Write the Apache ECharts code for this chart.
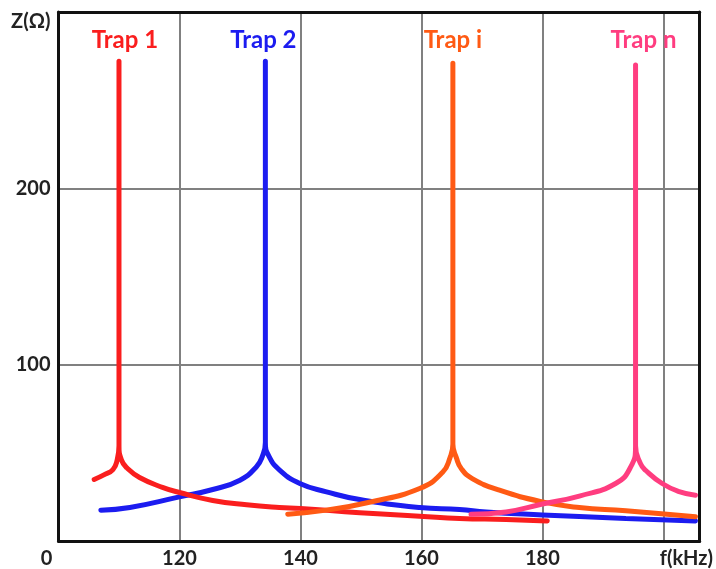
<!DOCTYPE html>
<html>
<head>
<meta charset="utf-8">
<script src="https://cdn.jsdelivr.net/npm/echarts@6/dist/echarts.min.js"></script>
<style>
  html, body { margin: 0; padding: 0; background: #fff; }
  #chart { width: 716px; height: 569px; }
</style>
</head>
<body>
<div id="chart"></div>
<script>
// ============ Data ============
const trapNames = ['Trap 1', 'Trap 2', 'Trap i', 'Trap n']
const trapColors = ['#fa1e1e', '#1c1cf0', '#ff5a14', '#ff3d80']
const peakFreq = [110.0, 134.2, 165.2, 195.4]
const peakZ = [272, 272, 271, 270]

// [f (kHz), Z (ohm)]  left branch up to the cusp, then the spike, then the right branch
const trap1Points = [
  [105.9, 34.9], [107.5, 37.5], [109.0, 40.5], [109.7, 46], [110.0, 54],
  [110.0, 272], [110.0, 54],
  [110.4, 46], [111.3, 41.5], [113.4, 36], [117.3, 30.3], [120, 27.5], [125.5, 23],
  [131.1, 20.5], [136.5, 19], [140, 18.5], [149.8, 16], [159.7, 14.1], [166.3, 12.8],
  [174, 12.2], [180.8, 11.4]
]
const trap2Points = [
  [107, 17.5], [111.8, 19], [120, 25], [125.5, 29.2], [130, 34.5], [132.7, 42],
  [133.7, 48], [134.2, 56],
  [134.2, 272], [134.2, 56],
  [134.8, 48], [136.6, 40.1], [139.9, 32.6], [144.3, 27.9], [149.8, 23.5], [159.7, 19],
  [166.3, 17.9], [170.7, 16.5], [180, 14.8], [186.1, 13.9], [193.8, 12.8], [205.3, 11.4]
]
const trapIPoints = [
  [137.9, 15.2], [144.3, 17.5], [151.4, 22], [159.7, 29.8], [163.5, 39], [164.7, 47],
  [165.2, 55],
  [165.2, 271], [165.2, 55],
  [165.8, 47], [166.6, 41], [168.4, 35.4], [172.9, 28.8], [180, 22.2], [186.1, 19],
  [193.8, 17.2], [205.3, 13.7]
]
const trapNPoints = [
  [168.2, 15.2], [174, 16.5], [180, 21], [186.1, 25.5], [192.1, 32.6], [194.6, 42],
  [195.4, 54],
  [195.4, 270], [195.4, 54],
  [196.2, 44], [197.1, 40], [199.8, 32.6], [202.6, 28], [205.3, 26]
]
const allPoints = [trap1Points, trap2Points, trapIPoints, trapNPoints]

const xTicks = [100, 120, 140, 160, 180, 200]
const yTicks = [100, 200]

// label shift (px) of each trap name relative to its spike
const labelShift = [[6, 0], [-2, 0], [0, -2], [8, -4]]
const drawOrder = [2, 1, 3, 4]

const textFont = { color: '#222', fontFamily: 'Lato', fontWeight: 'bold', fontSize: 20 }

const chart = echarts.init(document.getElementById('chart'))

const series = allPoints.map((pts, i) => ({
  name: trapNames[i],
  type: 'line',
  smooth: 0.5,
  symbol: 'none',
  z: drawOrder[i],
  lineStyle: { color: trapColors[i], width: 5, cap: 'round', join: 'round' },
  data: pts,
  markPoint: {
    silent: true,
    symbol: 'circle',
    symbolSize: 0,
    data: [{
      coord: [peakFreq[i], peakZ[i]],
      label: {
        show: true,
        position: 'top',
        distance: 9,
        offset: labelShift[i],
        formatter: trapNames[i],
        color: trapColors[i],
        fontFamily: 'Lato',
        fontWeight: 'bold',
        fontSize: 24
      }
    }]
  }
}))

// frame lines for the top and right edges
const frameAxisLine = { show: true, onZero: false, lineStyle: { color: '#111', width: 3 } }

chart.setOption({
  animation: false,
  backgroundColor: '#fff',
  grid: { left: 58.5, right: 16, top: 12, bottom: 28 },
  xAxis: [{
    type: 'value',
    min: 100,
    max: 206,
    interval: 20,
    axisLine: frameAxisLine,
    axisTick: { show: false },
    splitLine: { show: true, lineStyle: { color: '#808080', width: 2 } },
    axisLabel: {
      margin: 8,
      hideOverlap: false,
      showMaxLabel: true,
      showMinLabel: true,
      ...textFont,
      formatter: v => {
        if (v === 100) return '{o|0}'
        if (v === 200) return '{f|f(kHz)}'
        return xTicks.indexOf(v) >= 0 ? String(v) : ''
      },
      rich: {
        o: { padding: [0, 24, 0, 0], ...textFont },
        f: { padding: [0, 0, 0, 46], ...textFont }
      }
    }
  }, {
    type: 'value',
    position: 'top',
    min: 100,
    max: 206,
    axisLine: frameAxisLine,
    axisTick: { show: false },
    axisLabel: { show: false },
    splitLine: { show: false }
  }],
  yAxis: [{
    type: 'value',
    min: 0,
    max: 300,
    interval: 100,
    name: 'Z(Ω)',
    nameLocation: 'end',
    nameGap: -10,
    nameTextStyle: {
      align: 'right',
      verticalAlign: 'middle',
      padding: [0, 8, 0, 0],
      ...textFont
    },
    axisLine: frameAxisLine,
    axisTick: { show: false },
    splitLine: { show: true, lineStyle: { color: '#808080', width: 2 } },
    axisLabel: {
      margin: 8,
      ...textFont,
      formatter: v => (yTicks.indexOf(v) >= 0 ? String(v) : '')
    }
  }, {
    type: 'value',
    position: 'right',
    min: 0,
    max: 300,
    axisLine: frameAxisLine,
    axisTick: { show: false },
    axisLabel: { show: false },
    splitLine: { show: false }
  }],
  series: series
})
</script>
</body>
</html>
